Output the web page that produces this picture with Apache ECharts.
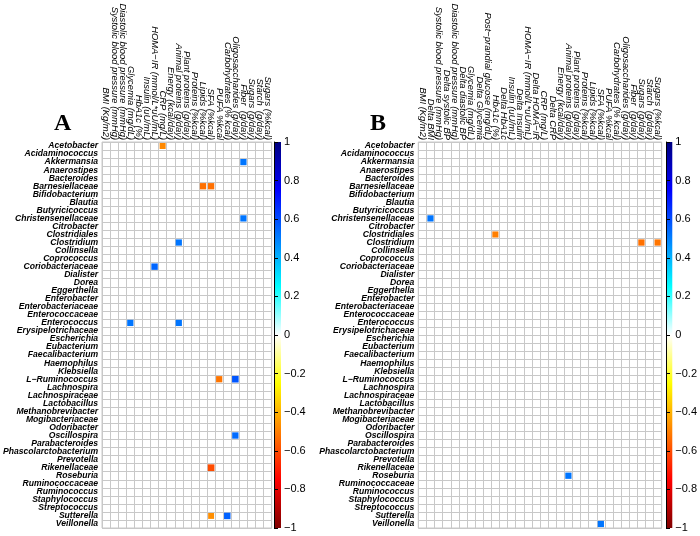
<!DOCTYPE html>
<html><head><meta charset="utf-8">
<script src="https://cdn.jsdelivr.net/npm/echarts@6/dist/echarts.min.js"></script>
<style>html,body{margin:0;padding:0;background:#fff}#c{width:700px;height:536px}</style>
</head><body><div id="c"></div>
<script>
const taxa = ["Acetobacter","Acidaminococcus","Akkermansia","Anaerostipes","Bacteroides","Barnesiellaceae","Bifidobacterium","Blautia","Butyricicoccus","Christensenellaceae","Citrobacter","Clostridiales","Clostridium","Collinsella","Coprococcus","Coriobacteriaceae","Dialister","Dorea","Eggerthella","Enterobacter","Enterobacteriaceae","Enterococcaceae","Enterococcus","Erysipelotrichaceae","Escherichia","Eubacterium","Faecalibacterium","Haemophilus","Klebsiella","L\u2212Ruminococcus","Lachnospira","Lachnospiraceae","Lactobacillus","Methanobrevibacter","Mogibacteriaceae","Odoribacter","Oscillospira","Parabacteroides","Phascolarctobacterium","Prevotella","Rikenellaceae","Roseburia","Ruminococcaceae","Ruminococcus","Staphylococcus","Streptococcus","Sutterella","Veillonella"];
const varsA = ["BMI (Kg/m2)","Systolic blood pressure (mmHg)","Diastolic blood pressure (mmHg)","Glycemia (mg/dL)","HbA1c (%)","Insulin (uU/mL)","HOMA\u2212IR (mmol/L*uU/mL)","CRP (mg/L)","Energy (kcal/day)","Animal proteins (g/day)","Plant proteins (g/day)","Proteins (%kcal)","Lipids (%kcal)","SFA (%kcal)","PUFA %kcal","Carbohydrates (% kcal)","Oligosaccharides (g/day)","Fiber  (g/day)","Sugars (g/day)","Starch  (g/day)","Sugars (%kcal)"];
const varsB = ["BMI (Kg/m2)","Delta BMI","Systolic blood pressure (mmHg)","Delta systolic BP","Diastolic blood pressure (mmHg)","Delta diastolic BP","Glycemia (mg/dL)","Delta Glycemia","Post\u2212prandial glucose (mg/dL)","HbA1c (%)","Delta HbA1c","Insulin (uU/mL)","Delta Insulin","HOMA\u2212IR (mmol/L*uU/mL)","Delta HOMA\u2212IR","CRP (mg/L)","Delta CRP","Energy (kcal/day)","Animal proteins (g/day)","Plant proteins (g/day)","Proteins (%kcal)","Lipids (%kcal)","SFA (%kcal)","PUFA %kcal","Carbohydrates (% kcal)","Oligosaccharides (g/day)","Fiber  (g/day)","Sugars (g/day)","Starch  (g/day)","Sugars (%kcal)"];
// significant correlations: [variable, taxon, r]
const corrA = [
  ["CRP (mg/L)","Acetobacter",-0.48],
  ["Fiber  (g/day)","Akkermansia",0.52],
  ["Lipids (%kcal)","Barnesiellaceae",-0.53],
  ["SFA (%kcal)","Barnesiellaceae",-0.53],
  ["Fiber  (g/day)","Christensenellaceae",0.52],
  ["Animal proteins (g/day)","Clostridium",0.52],
  ["HOMA\u2212IR (mmol/L*uU/mL)","Coriobacteriaceae",0.55],
  ["Glycemia (mg/dL)","Enterococcus",0.52],
  ["Animal proteins (g/day)","Enterococcus",0.52],
  ["PUFA %kcal","L\u2212Ruminococcus",-0.52],
  ["Oligosaccharides (g/day)","L\u2212Ruminococcus",0.58],
  ["Oligosaccharides (g/day)","Oscillospira",0.54],
  ["SFA (%kcal)","Rikenellaceae",-0.6],
  ["SFA (%kcal)","Sutterella",-0.47],
  ["Carbohydrates (% kcal)","Sutterella",0.56]
];
const corrB = [
  ["Delta BMI","Christensenellaceae",0.52],
  ["HbA1c (%)","Clostridiales",-0.5],
  ["Sugars (g/day)","Clostridium",-0.53],
  ["Sugars (%kcal)","Clostridium",-0.52],
  ["Animal proteins (g/day)","Roseburia",0.52],
  ["SFA (%kcal)","Veillonella",0.52]
];
const palette = ["#7F0000","#FF0000","#FF7F00","#FFFF00","#FFFFFF","#00FFFF","#007FFF","#0000FF","#00007F"];
const barTicks = [-1,-0.8,-0.6,-0.4,-0.2,0,0.2,0.4,0.6,0.8,1];

const TOP = 142, H = 386;
const gridLine = {show:true, lineStyle:{color:'#c8c8c8', width:1}};
function heatX(idx, cats){
  return {type:'category', gridIndex:idx, data:cats, position:'top', boundaryGap:true,
    axisLine:{show:false}, axisTick:{show:false}, splitLine:gridLine,
    axisLabel:{rotate:90, interval:0, margin:2, fontSize:9.4, fontStyle:'italic', color:'#000', fontFamily:'Liberation Sans'}};
}
function heatY(idx){
  return {type:'category', gridIndex:idx, data:taxa, inverse:true, boundaryGap:true,
    axisLine:{show:false}, axisTick:{show:false}, splitLine:gridLine,
    axisLabel:{interval:0, margin:4, fontSize:8.6, fontStyle:'italic', fontWeight:'bold', color:'#000', fontFamily:'Liberation Sans'}};
}
const grad = {type:'linear', x:0, y:0, x2:0, y2:1,
  colorStops: palette.slice().reverse().map((c,i)=>({offset:i/(palette.length-1), color:c}))};
function barY(idx){
  return {type:'value', gridIndex:idx, min:-1, max:1, interval:0.2, position:'right',
    axisLine:{show:true, lineStyle:{color:'#000', width:1}}, axisTick:{show:true, length:4, lineStyle:{color:'#000'}},
    splitLine:{show:false},
    axisLabel:{margin:3, fontSize:11, color:'#000', fontFamily:'Liberation Sans',
      formatter:v=>{const t=barTicks.find(b=>Math.abs(b-v)<1e-6); return t===undefined?'':String(t).replace('-','\u2212');}}};
}
function scatterSeries(idx, data){
  return {type:'scatter', xAxisIndex:idx, yAxisIndex:idx, symbol:'rect',
    symbolSize: d=>7.2*Math.sqrt(Math.abs(d[2])/0.5)*0.85, data:data, itemStyle:{opacity:1}};
}
const option = {
  backgroundColor:'#fff',
  animation:false,
  grid:[
    {left:101.7, top:TOP, width:170, height:H, show:true, borderColor:'#c8c8c8', borderWidth:1, backgroundColor:'#fff'},
    {left:418.3, top:TOP, width:243.4, height:H, show:true, borderColor:'#c8c8c8', borderWidth:1, backgroundColor:'#fff'},
    {left:274, top:TOP, width:7, height:H, show:true, borderWidth:0, backgroundColor:grad},
    {left:666, top:TOP, width:8, height:H, show:true, borderWidth:0, backgroundColor:grad}
  ],
  xAxis:[heatX(0,varsA), heatX(1,varsB),
    {type:'value', gridIndex:2, show:false, min:0, max:1},
    {type:'value', gridIndex:3, show:false, min:0, max:1}],
  yAxis:[heatY(0), heatY(1), barY(2), barY(3)],
  visualMap:{show:false, type:'continuous', min:-1, max:1, dimension:2, seriesIndex:[0,1], inRange:{color:palette}},
  series:[scatterSeries(0, corrA), scatterSeries(1, corrB)],
  graphic:[
    {type:'text', left:54, top:112, style:{text:'A', font:'bold 24px "Liberation Serif"', fill:'#000'}},
    {type:'text', left:370, top:112, style:{text:'B', font:'bold 24px "Liberation Serif"', fill:'#000'}}
  ]
};
const chart = echarts.init(document.getElementById('c'), null, {renderer:'canvas'});
chart.setOption(option);
</script></body></html>
